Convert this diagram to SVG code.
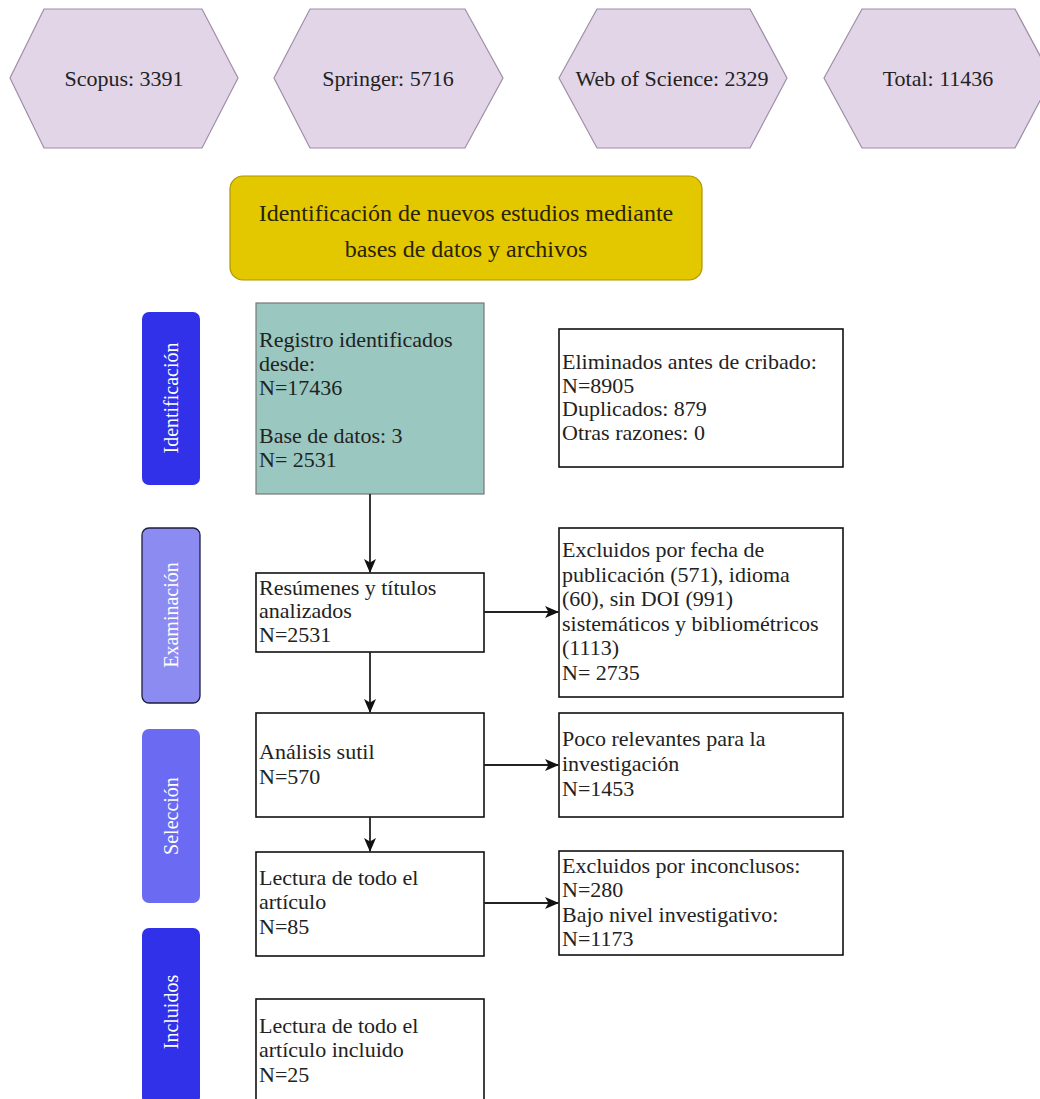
<svg xmlns="http://www.w3.org/2000/svg" width="1040" height="1099" viewBox="0 0 1040 1099">
<defs>
<style>
.hex{fill:#e1d5e7;stroke:#9e8ea6;stroke-width:1.2}
.ht{font-family:"Liberation Serif","Times New Roman",serif;font-size:22px;fill:#222;text-anchor:middle}
.t{font-family:"Liberation Serif","Times New Roman",serif;font-size:22px;fill:#222}
.title{font-family:"Liberation Serif","Times New Roman",serif;font-size:24px;fill:#2a2200;text-anchor:middle}
.box{fill:#fff;stroke:#111;stroke-width:1.6}
.side{stroke:none}
.st{font-family:"Liberation Serif","Times New Roman",serif;font-size:20px;fill:#fff;text-anchor:middle;dominant-baseline:central}
.c{fill:none;stroke:#222;stroke-width:1.8}
</style>
<marker id="ah" viewBox="0 0 14 12" refX="13" refY="6" markerWidth="14" markerHeight="12" markerUnits="userSpaceOnUse" orient="auto">
<path d="M0,0 L14,6 L0,12 L3.5,6 Z" fill="#111"/>
</marker>
</defs>
<rect width="1040" height="1099" fill="#fff"/>
<g id="scopus"><polygon class="hex" points="10,78 44,9 202,9 238,78 202,148 44,148"/><text class="ht" x="124" y="86">Scopus: 3391</text></g>
<g id="springer"><polygon class="hex" points="274,78 310,9 465,9 503,78 465,148 310,148"/><text class="ht" x="388" y="86">Springer: 5716</text></g>
<g id="wos"><polygon class="hex" points="559,78 597,9 750,9 787,78 750,148 597,148"/><text class="ht" x="672" y="86">Web of Science: 2329</text></g>
<g id="total"><polygon class="hex" points="824,78 862,9 1015,9 1052,78 1015,148 862,148"/><text class="ht" x="938" y="86">Total: 11436</text></g>
<g id="title"><rect x="230" y="176" width="472" height="104" rx="13" fill="#e3c800" stroke="#b09500" stroke-width="1.2"/><text class="title" x="466" y="221">Identificación de nuevos estudios mediante</text><text class="title" x="466" y="257">bases de datos y archivos</text></g>
<g id="s-ident"><rect class="side" x="142" y="312" width="58" height="173" rx="7" fill="#3131ea"/><text class="st" transform="translate(171,398) rotate(-90)">Identificación</text></g>
<g id="s-exam"><rect x="142" y="528" width="58" height="175" rx="7" fill="#8b8bf2" stroke="#1e1e40" stroke-width="1.3"/><text class="st" fill="#eef" transform="translate(171,615) rotate(-90)">Examinación</text></g>
<g id="s-sel"><rect class="side" x="142" y="729" width="58" height="174" rx="7" fill="#6a6af2"/><text class="st" transform="translate(171,816) rotate(-90)">Selección</text></g>
<g id="s-incl"><rect class="side" x="142" y="928" width="58" height="176" rx="7" fill="#3131ea"/><text class="st" transform="translate(171,1012) rotate(-90)">Incluidos</text></g>
<g id="registro"><rect x="256" y="303" width="228" height="191" fill="#9ac7bf" stroke="#777" stroke-width="1.2"/><text class="t" x="259" y="347">Registro identificados</text><text class="t" x="259" y="371">desde:</text><text class="t" x="259" y="395">N=17436</text><text class="t" x="259" y="443">Base de datos: 3</text><text class="t" x="259" y="467">N= 2531</text></g>
<g id="eliminados"><rect class="box" x="559" y="329" width="284" height="138"/><text class="t" x="562" y="369">Eliminados antes de cribado:</text><text class="t" x="562" y="393">N=8905</text><text class="t" x="562" y="416">Duplicados: 879</text><text class="t" x="562" y="440">Otras razones: 0</text></g>
<g id="resumenes"><rect class="box" x="256" y="573" width="228" height="79"/><text class="t" x="259" y="595">Resúmenes y títulos</text><text class="t" x="259" y="618">analizados</text><text class="t" x="259" y="642">N=2531</text></g>
<g id="excl-fecha"><rect class="box" x="559" y="528" width="284" height="169"/><text class="t" x="562" y="557">Excluidos por fecha de</text><text class="t" x="562" y="582">publicación (571), idioma</text><text class="t" x="562" y="606">(60), sin DOI (991)</text><text class="t" x="562" y="631">sistemáticos y bibliométricos</text><text class="t" x="562" y="655">(1113)</text><text class="t" x="562" y="680">N= 2735</text></g>
<g id="analisis"><rect class="box" x="256" y="713" width="228" height="104"/><text class="t" x="259" y="759">Análisis sutil</text><text class="t" x="259" y="784">N=570</text></g>
<g id="poco"><rect class="box" x="559" y="713" width="284" height="104"/><text class="t" x="562" y="746">Poco relevantes para la</text><text class="t" x="562" y="771">investigación</text><text class="t" x="562" y="796">N=1453</text></g>
<g id="lectura"><rect class="box" x="256" y="852" width="228" height="104"/><text class="t" x="259" y="885">Lectura de todo el</text><text class="t" x="259" y="909">artículo</text><text class="t" x="259" y="934">N=85</text></g>
<g id="inconclusos"><rect class="box" x="559" y="851" width="284" height="104"/><text class="t" x="562" y="873">Excluidos por inconclusos:</text><text class="t" x="562" y="897">N=280</text><text class="t" x="562" y="922">Bajo nivel investigativo:</text><text class="t" x="562" y="946">N=1173</text></g>
<g id="incluido"><rect class="box" x="256" y="999" width="228" height="110"/><text class="t" x="259" y="1033">Lectura de todo el</text><text class="t" x="259" y="1057">artículo incluido</text><text class="t" x="259" y="1082">N=25</text></g>
<g id="connectors">
<line class="c" x1="370" y1="494" x2="370" y2="572" marker-end="url(#ah)"/>
<line class="c" x1="370" y1="652" x2="370" y2="712" marker-end="url(#ah)"/>
<line class="c" x1="370" y1="817" x2="370" y2="851" marker-end="url(#ah)"/>
<line class="c" x1="484" y1="612" x2="558" y2="612" stroke="#555" marker-end="url(#ah)"/>
<line class="c" x1="484" y1="765" x2="558" y2="765" marker-end="url(#ah)"/>
<line class="c" x1="484" y1="903" x2="558" y2="903" marker-end="url(#ah)"/>
</g>
</svg>
